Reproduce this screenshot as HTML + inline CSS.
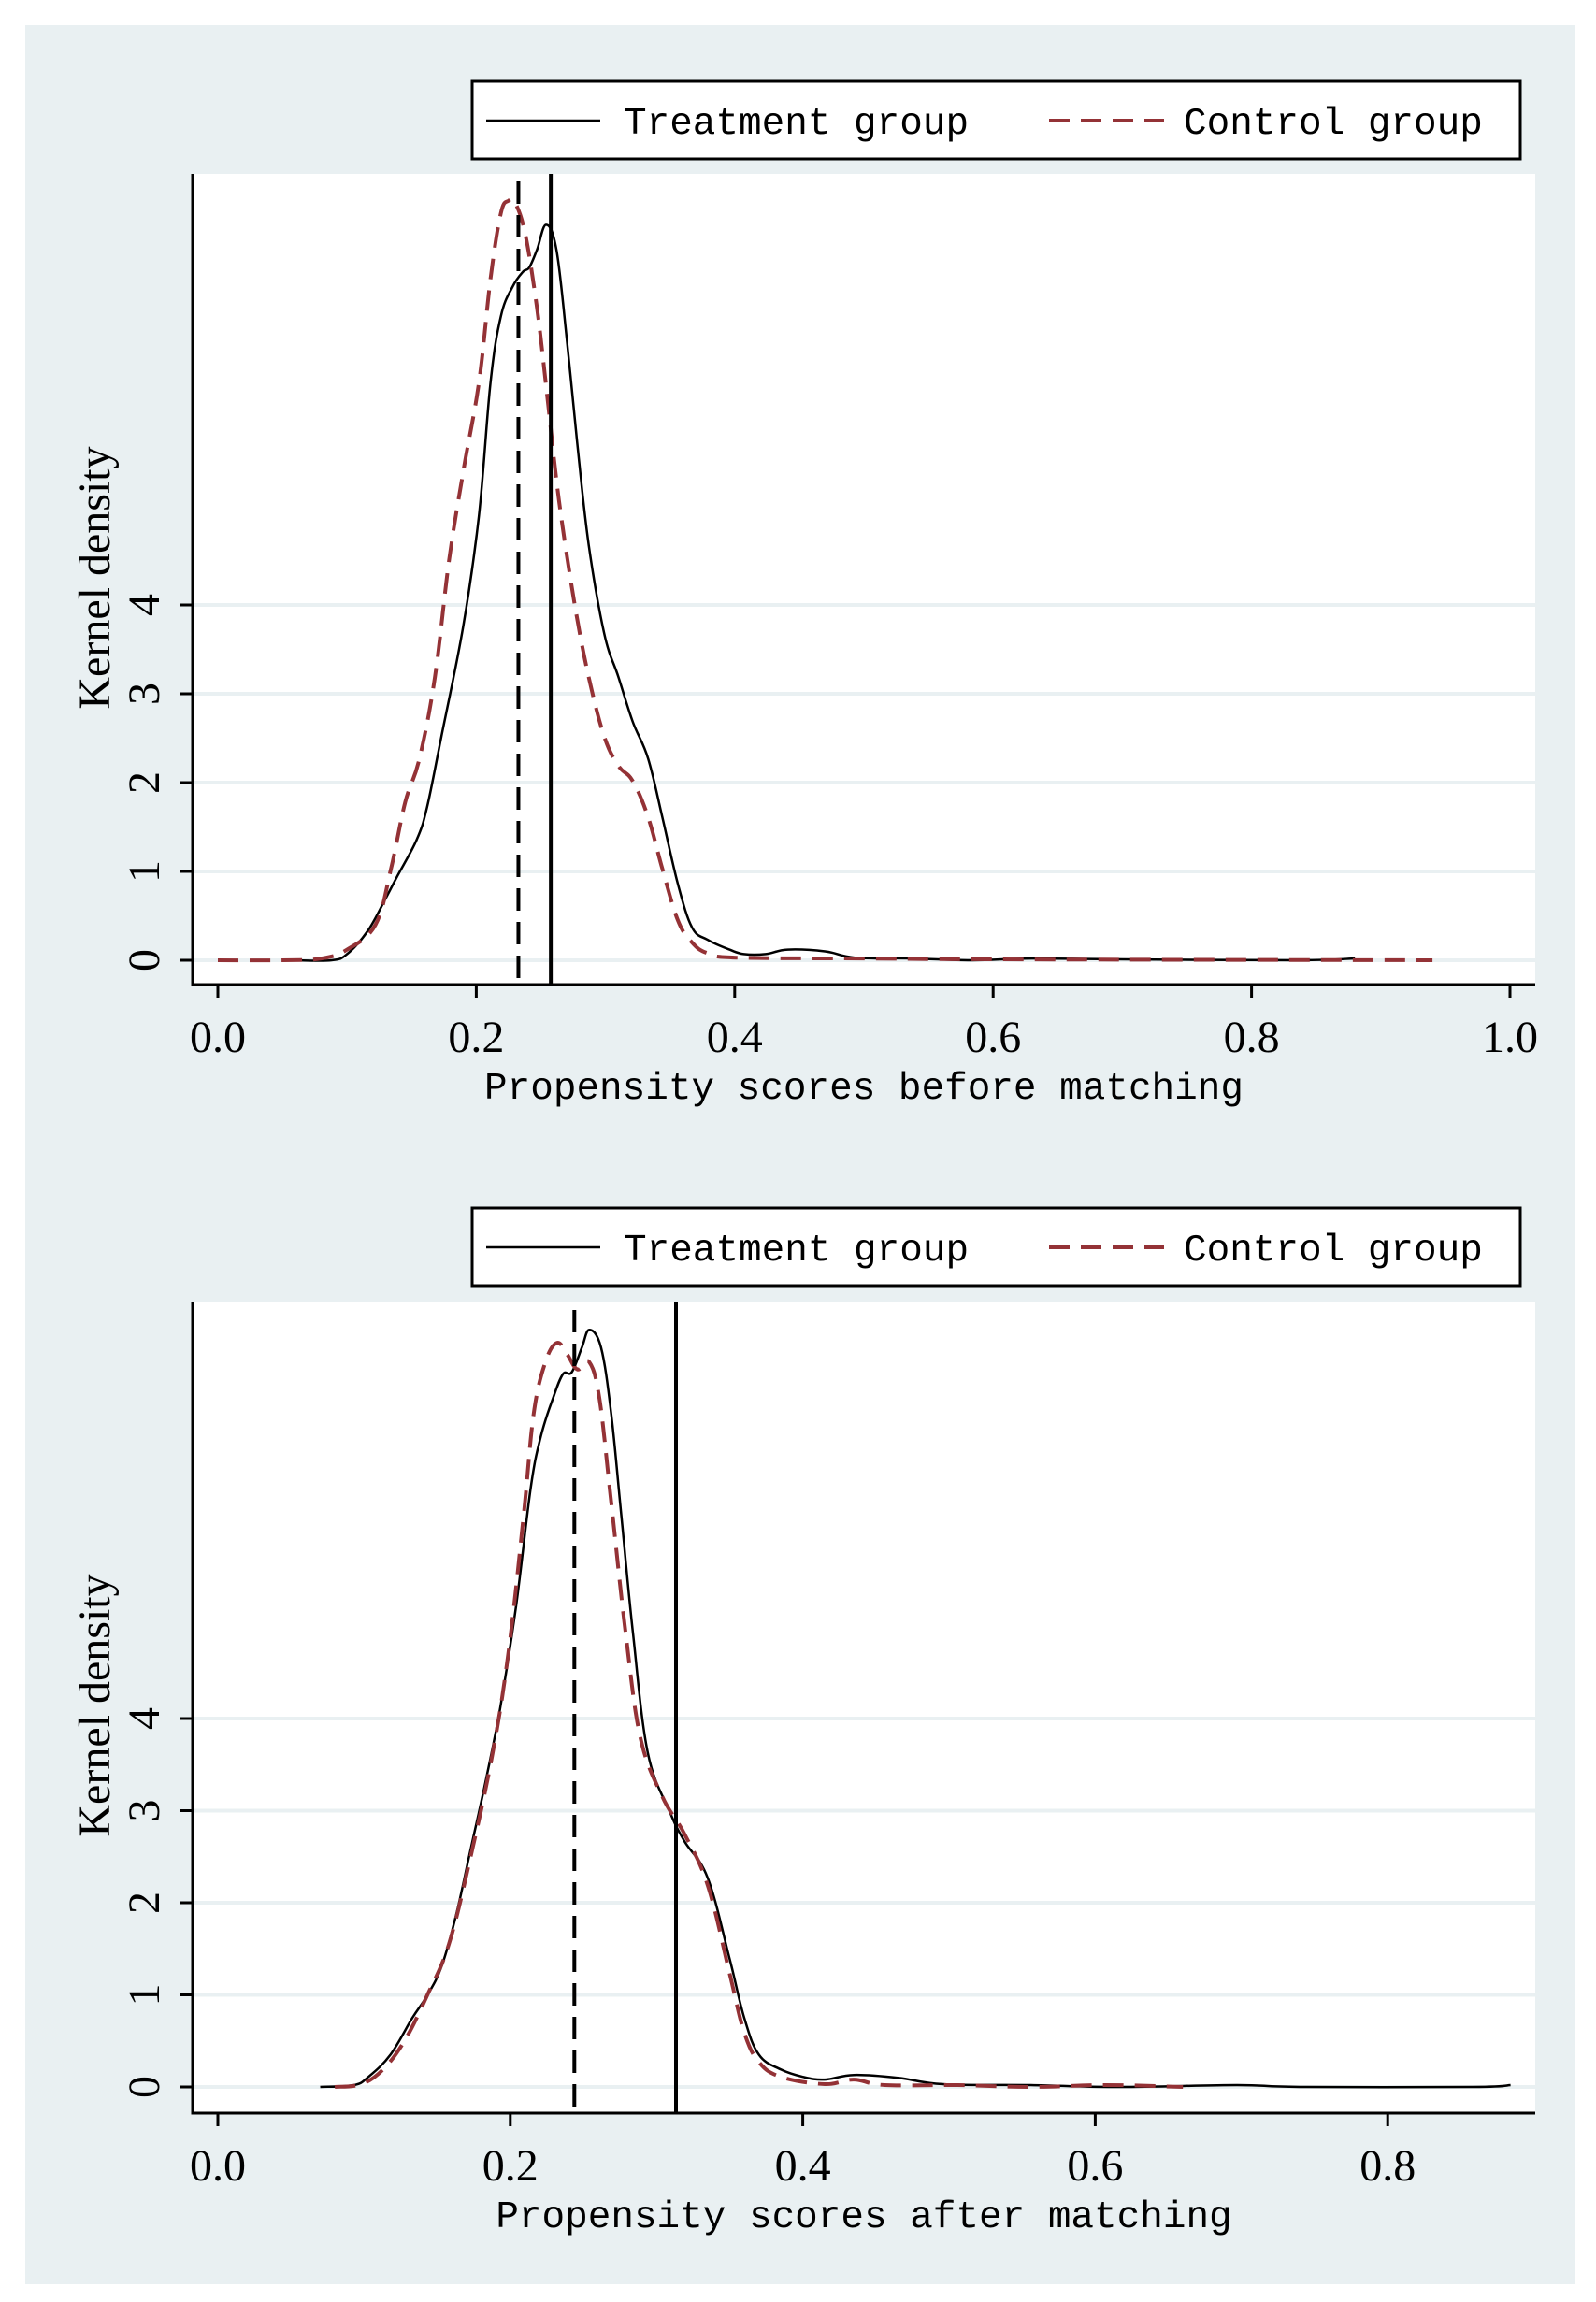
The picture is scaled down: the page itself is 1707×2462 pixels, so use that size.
<!DOCTYPE html>
<html><head><meta charset="utf-8"><style>
html,body{margin:0;padding:0;background:#fff;}
svg{display:block;}
.tk{font-family:"Liberation Serif",serif;font-size:48px;fill:#000;}
.mono{font-family:"Liberation Mono",monospace;font-size:41px;fill:#000;}
</style></head><body>
<svg id="chart" width="1707" height="2462" viewBox="0 0 1707 2462" xmlns="http://www.w3.org/2000/svg">
<rect x="27" y="27" width="1658" height="2416" fill="#e9f0f2"/>
</svg>
<script>
// ---- data ----
const topTreatX=[0.06,0.088,0.1,0.116,0.13,0.139,0.154,0.162,0.173,0.19,0.202,0.211,0.219,0.228,0.236,0.241,0.247,0.254,0.262,0.27,0.278,0.287,0.299,0.31,0.321,0.333,0.344,0.356,0.367,0.379,0.396,0.407,0.424,0.441,0.47,0.493,0.538,0.584,0.63,0.7,0.835,0.88];
const topTreatY=[0,0,0.07,0.33,0.7,0.95,1.36,1.73,2.52,3.77,5.0,6.5,7.25,7.58,7.75,7.8,8.0,8.28,8.0,7.0,5.84,4.68,3.68,3.19,2.69,2.27,1.61,0.86,0.37,0.23,0.12,0.07,0.07,0.12,0.1,0.03,0.02,0,0.02,0.01,0,0.02];
const topCtrlX=[0,0.05,0.08,0.1,0.122,0.134,0.145,0.156,0.168,0.179,0.19,0.202,0.211,0.219,0.225,0.23,0.238,0.247,0.255,0.264,0.276,0.287,0.299,0.31,0.321,0.333,0.344,0.356,0.367,0.379,0.401,0.5,0.6,0.94];
const topCtrlY=[0,0,0.02,0.12,0.4,1.03,1.78,2.27,3.19,4.51,5.51,6.5,7.67,8.41,8.55,8.53,8.17,7.34,6.34,5.18,4.02,3.19,2.52,2.19,2.02,1.61,1.03,0.45,0.2,0.08,0.03,0.02,0.01,0];
const topMeans=[0.2326,0.2577]; // control, treatment
const botTreatX=[0.07,0.093,0.103,0.118,0.133,0.143,0.153,0.163,0.173,0.183,0.193,0.204,0.214,0.221,0.229,0.236,0.242,0.249,0.254,0.262,0.269,0.276,0.284,0.294,0.309,0.319,0.335,0.35,0.36,0.37,0.385,0.4,0.415,0.435,0.465,0.496,0.556,0.617,0.697,0.74,0.858,0.884];
const botTreatY=[0,0.02,0.11,0.35,0.75,0.99,1.31,1.87,2.59,3.31,4.11,5.23,6.51,7.07,7.47,7.74,7.76,8.03,8.22,8.03,7.31,6.19,4.91,3.63,2.99,2.67,2.27,1.39,0.75,0.35,0.19,0.11,0.08,0.13,0.1,0.03,0.02,0,0.02,0,0,0.02];
const botCtrlX=[0.08,0.098,0.113,0.128,0.143,0.158,0.173,0.188,0.199,0.209,0.216,0.224,0.232,0.239,0.246,0.254,0.261,0.269,0.279,0.289,0.304,0.319,0.335,0.35,0.36,0.37,0.385,0.415,0.435,0.456,0.506,0.556,0.607,0.66];
const botCtrlY=[0,0.03,0.19,0.51,0.99,1.55,2.51,3.63,4.75,6.19,7.31,7.87,8.08,7.95,7.79,7.87,7.47,6.35,4.91,3.79,3.15,2.75,2.19,1.23,0.59,0.27,0.11,0.03,0.08,0.02,0.02,0,0.02,0];
const botMeans=[0.2438,0.3133];
const yTicks=[0,1,2,3,4];
const topXTicks=["0.0","0.2","0.4","0.6","0.8","1.0"];
const botXTicks=["0.0","0.2","0.4","0.6","0.8"];

const NS="http://www.w3.org/2000/svg";
const svg=document.getElementById('chart');
function mk(tag,attrs,parent){const e=document.createElementNS(NS,tag);for(const k in attrs)e.setAttribute(k,attrs[k]);(parent||svg).appendChild(e);return e;}

function smooth(pts){
  let d='M'+pts[0][0].toFixed(1)+','+pts[0][1].toFixed(1);
  for(let i=0;i<pts.length-1;i++){
    const p0=pts[Math.max(0,i-1)],p1=pts[i],p2=pts[i+1],p3=pts[Math.min(pts.length-1,i+2)];
    const t=0.18;
    const c1=[p1[0]+(p2[0]-p0[0])*t,p1[1]+(p2[1]-p0[1])*t];
    const c2=[p2[0]-(p3[0]-p1[0])*t,p2[1]-(p3[1]-p1[1])*t];
    d+=' C'+c1.map(v=>v.toFixed(1)).join(',')+' '+c2.map(v=>v.toFixed(1)).join(',')+' '+p2.map(v=>v.toFixed(1)).join(',');
  }
  return d;
}

function panel(cfg){
  const g=mk('g',{});
  
  
  const L=206,R=1642,T=cfg.top,B=cfg.bottom;
  const sx=v=>cfg.x0+(v)*cfg.xPer;
  const sy=v=>cfg.y0-v*cfg.yPer;
  const bg=mk('rect',{x:L,y:T,width:R-L,height:B-T,fill:'#fff'},g);
  
  
  yTicks.forEach(t=>{
    const gl=mk('line',{x1:L,x2:R,y1:sy(t),y2:sy(t),stroke:'#e9f0f2','stroke-width':4},g);
    
    
    mk('line',{x1:L-14,x2:L,y1:sy(t),y2:sy(t),stroke:'#000','stroke-width':3},g);
    const tx=mk('text',{class:'tk',x:0,y:0,'text-anchor':'middle',transform:`translate(170,${sy(t)}) rotate(-90)`},g);
    tx.textContent=String(t);
    
    
  });
  cfg.xTicks.forEach(lbl=>{
    const v=parseFloat(lbl);
    mk('line',{x1:sx(v),x2:sx(v),y1:B,y2:B+14,stroke:'#000','stroke-width':3},g);
    const tx=mk('text',{class:'tk',x:sx(v),y:B+72,'text-anchor':'middle'},g);
    tx.textContent=lbl;
    
    
  });
  function path(xs,ys,attrs,name){
    const pts=xs.map((x,i)=>[sx(x),sy(ys[i])]);
    const p=mk('path',Object.assign({d:smooth(pts),fill:'none','stroke-linejoin':'round'},attrs),g);
    
    
  }
  path(cfg.tx,cfg.ty,{stroke:'#000','stroke-width':2.5},'treatment-density-line');
  path(cfg.cx,cfg.cy,{stroke:'#943236','stroke-width':4,'stroke-dasharray':'22 12'},'control-density-line');
  const m1=mk('line',{x1:sx(cfg.means[0]),x2:sx(cfg.means[0]),y1:T+8,y2:B,stroke:'#000','stroke-width':4,'stroke-dasharray':'24 12'},g);
  
  
  const m2=mk('line',{x1:sx(cfg.means[1]),x2:sx(cfg.means[1]),y1:T,y2:B,stroke:'#000','stroke-width':4},g);
  
  
  mk('line',{x1:L,x2:L,y1:T,y2:B+1.5,stroke:'#000','stroke-width':3},g);
  mk('line',{x1:L,x2:R,y1:B,y2:B,stroke:'#000','stroke-width':3},g);
  const yl=mk('text',{class:'tk',x:0,y:0,'text-anchor':'middle','font-size':54,transform:`translate(117,${cfg.yLabelY}) rotate(-90)`},g);
  yl.textContent='Kernel density';
  
  
  const xt=mk('text',{class:'mono',x:924,y:B+122,'text-anchor':'middle'},g);
  xt.textContent=cfg.title;
  
  
  const lg=mk('g',{},g);
  
  
  const LT=cfg.legTop;
  mk('rect',{x:505,y:LT,width:1121,height:83,fill:'#fff',stroke:'#000','stroke-width':3},lg);
  const ly=LT+42;
  mk('line',{x1:520,x2:642,y1:ly,y2:ly,stroke:'#000','stroke-width':2.5},lg);
  const t1=mk('text',{class:'mono',x:667,y:ly+14},lg);
  t1.textContent='Treatment group';
  
  
  mk('line',{x1:1122,x2:1245,y1:ly,y2:ly,stroke:'#943236','stroke-width':4,'stroke-dasharray':'22 12'},lg);
  const t2=mk('text',{class:'mono',x:1266,y:ly+14},lg);
  t2.textContent='Control group';
  
  
}
panel({name:'before-matching-panel',top:186,bottom:1053,x0:233,xPer:1382,y0:1027,yPer:95,
  xTicks:topXTicks,tx:topTreatX,ty:topTreatY,cx:topCtrlX,cy:topCtrlY,means:topMeans,
  title:'Propensity scores before matching',legTop:87,yLabelY:618});
panel({name:'after-matching-panel',top:1393,bottom:2260,x0:233,xPer:1564,y0:2232,yPer:98.5,
  xTicks:botXTicks,tx:botTreatX,ty:botTreatY,cx:botCtrlX,cy:botCtrlY,means:botMeans,
  title:'Propensity scores after matching',legTop:1292,yLabelY:1824});
</script>
</body></html>
